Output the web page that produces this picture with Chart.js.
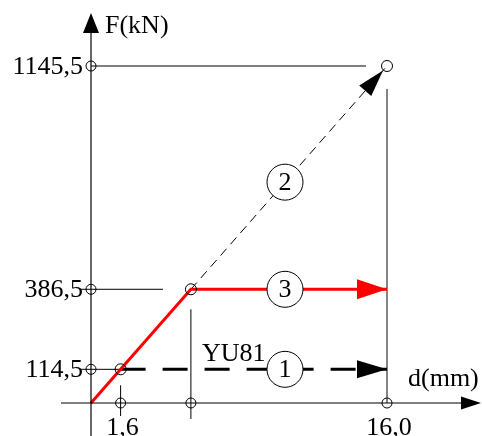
<!DOCTYPE html>
<html>
<head>
<meta charset="utf-8">
<title>F-d</title>
<script src="https://cdn.jsdelivr.net/npm/chart.js@4/dist/chart.umd.min.js"></script>
<style>
  html, body { margin: 0; padding: 0; background: #fff; }
  canvas { display: block; }
</style>
</head>
<body>
<canvas id="fdChart" width="482" height="436"></canvas>
<script>
// axis ticks (displacement in mm, force in kN)
const dispTicks = [1.6, 5.4, 16.0];
const dispLabels = ["1,6", "", "16,0"];
const forceTicks = [114.5, 386.5, 1145.5];
const forceLabels = ["114,5", "386,5", "1145,5"];

// curve 3: elastic then plastic (red)
const curve3Disp = [0, 1.6, 5.4, 16.0];
const curve3Force = [0, 114.5, 386.5, 386.5];
// curve 1: YU81 level
const curve1Disp = [1.6, 16.0];
const curve1Force = [114.5, 114.5];
// curve 2: elastic continuation
const curve2Disp = [5.4, 16.0];
const curve2Force = [386.5, 1145.5];

// layout of the drawing on the canvas
const W = 482, H = 436;
const ORIGIN_X = 91, ORIGIN_Y = 403, END_X = 387, TOP_Y = 66;
const SERIF = "26px 'Liberation Serif', 'Times New Roman', serif";

const dMax = dispTicks[dispTicks.length - 1];
const fMax = forceTicks[forceTicks.length - 1];
const pxPerMm = (END_X - ORIGIN_X) / dMax;
const pxPerKn = (ORIGIN_Y - TOP_Y) / fMax;

function toPoints(xs, ys) {
  return xs.map((x, i) => ({ x: x, y: ys[i] }));
}

function arrowHead(ctx, tipX, tipY, dx, dy, len, half, color) {
  const n = Math.hypot(dx, dy);
  const ux = dx / n, uy = dy / n;
  const bx = tipX - ux * len, by = tipY - uy * len;
  ctx.beginPath();
  ctx.moveTo(tipX, tipY);
  ctx.lineTo(bx - uy * half, by + ux * half);
  ctx.lineTo(bx + uy * half, by - ux * half);
  ctx.closePath();
  ctx.fillStyle = color;
  ctx.fill();
}

function ring(ctx, x, y, r) {
  ctx.beginPath();
  ctx.arc(x, y, r, 0, Math.PI * 2);
  ctx.lineWidth = 1;
  ctx.strokeStyle = "#000";
  ctx.stroke();
}

function seg(ctx, x1, y1, x2, y2, color, w) {
  ctx.beginPath();
  ctx.moveTo(x1, y1);
  ctx.lineTo(x2, y2);
  ctx.strokeStyle = color;
  ctx.lineWidth = w;
  ctx.stroke();
}

// guide lines under the curves
const guides = {
  id: "guides",
  beforeDatasetsDraw(chart) {
    const ctx = chart.ctx;
    const sx = chart.scales.x, sy = chart.scales.y;
    const x0 = sx.getPixelForValue(0), y0 = sy.getPixelForValue(0);
    const xa = sx.getPixelForValue(dispTicks[0]);
    const xb = sx.getPixelForValue(dispTicks[1]);
    const xc = sx.getPixelForValue(dispTicks[2]);
    const ya = sy.getPixelForValue(forceTicks[0]);
    const yb = sy.getPixelForValue(forceTicks[1]);
    const yc = sy.getPixelForValue(forceTicks[2]);
    ctx.save();
    seg(ctx, x0, yc, xc - 21, yc, "#555", 1.5);
    seg(ctx, xc, yc + 23, xc, y0, "#333", 1.2);
    seg(ctx, x0 - 11, yb, x0 + 72, yb, "#000", 1);
    seg(ctx, x0 - 11, ya, xa, ya, "#000", 1);
    seg(ctx, xa, ya + 16, xa, y0 + 13, "#000", 1);
    seg(ctx, xb, yb + 20, xb, y0 + 16, "#000", 1);
    ctx.restore();
  }
};

// axes, arrows, markers and labels on top
const decorations = {
  id: "decorations",
  afterDatasetsDraw(chart) {
    const ctx = chart.ctx;
    const sx = chart.scales.x, sy = chart.scales.y;
    const x0 = sx.getPixelForValue(0), y0 = sy.getPixelForValue(0);
    ctx.save();

    // axes
    seg(ctx, x0, H, x0, 30, "#000", 1.2);
    arrowHead(ctx, x0, 13, 0, -1, 20, 8, "#000");
    seg(ctx, 61, y0, W - 18, y0, "#000", 1.2);
    arrowHead(ctx, W - 1, y0, 1, 0, 20, 6.5, "#000");

    ctx.font = SERIF;
    ctx.fillStyle = "#000";
    ctx.textBaseline = "alphabetic";
    ctx.textAlign = "left";
    ctx.fillText("F(kN)", x0 + 14, 33);
    ctx.fillText("d(mm)", 408, 386);

    // tick rings and labels
    ctx.textBaseline = "middle";
    ctx.textAlign = "right";
    forceTicks.forEach((f, i) => {
      const y = sy.getPixelForValue(f);
      ring(ctx, x0, y, 5);
      ctx.fillText(forceLabels[i], x0 - 8, y + 1);
    });
    ctx.textBaseline = "alphabetic";
    ctx.textAlign = "center";
    dispTicks.forEach((d, i) => {
      const x = sx.getPixelForValue(d);
      ring(ctx, x, y0, 5);
      if (dispLabels[i]) ctx.fillText(dispLabels[i], x + 2, 435);
    });

    // arrowheads at curve ends
    const c3 = chart.getDatasetMeta(0).data;
    const c1 = chart.getDatasetMeta(1).data;
    const c2 = chart.getDatasetMeta(2).data;
    const e3 = c3[c3.length - 1];
    arrowHead(ctx, e3.x, e3.y, 1, 0, 30, 10, "#ff0000");
    const e1 = c1[c1.length - 1];
    arrowHead(ctx, e1.x, e1.y, 1, 0, 30, 9, "#000");
    const s2 = c2[0], e2 = c2[c2.length - 1];
    const dx = e2.x - s2.x, dy = e2.y - s2.y, n = Math.hypot(dx, dy);
    arrowHead(ctx, e2.x - dx / n * 6, e2.y - dy / n * 6, dx, dy, 27, 8, "#000");

    // point rings
    ring(ctx, c3[1].x, c3[1].y, 5.5);
    ring(ctx, c3[2].x, c3[2].y, 5.5);
    ring(ctx, e2.x, e2.y, 5.5);

    // curve numbers
    const tags = [
      { t: "1", y: curve1Force[0] },
      { t: "3", y: curve3Force[3] },
      { t: "2", y: null }
    ];
    const cx = 285;
    tags.forEach(tag => {
      let y;
      if (tag.y === null) {
        // on curve 2 where it crosses x = cx
        const k = (cx - s2.x) / (e2.x - s2.x);
        y = s2.y + k * (e2.y - s2.y);
      } else {
        y = sy.getPixelForValue(tag.y);
      }
      ctx.beginPath();
      ctx.arc(cx, y, 18, 0, Math.PI * 2);
      ctx.fillStyle = "#fff";
      ctx.fill();
      ctx.lineWidth = 1;
      ctx.strokeStyle = "#000";
      ctx.stroke();
      ctx.fillStyle = "#000";
      ctx.textAlign = "center";
      ctx.textBaseline = "middle";
      ctx.fillText(tag.t, cx, y + 1);
    });

    ctx.textAlign = "left";
    ctx.textBaseline = "alphabetic";
    ctx.fillText("YU81", 202, 361);

    ctx.restore();
  }
};

const ctx = document.getElementById("fdChart").getContext("2d");
const fdChart = new Chart(ctx, {
  type: "scatter",
  data: {
    datasets: [
      {
        label: "3",
        data: toPoints(curve3Disp, curve3Force),
        showLine: true,
        borderColor: "#ff0000",
        borderWidth: 3,
        pointRadius: 0,
        tension: 0,
      },
      {
        label: "1",
        data: toPoints(curve1Disp, curve1Force),
        showLine: true,
        borderColor: "#000",
        borderWidth: 3,
        borderDash: [25, 17],
        pointRadius: 0,
      },
      {
        label: "2",
        data: toPoints(curve2Disp, curve2Force),
        showLine: true,
        borderColor: "#000",
        borderWidth: 1,
        borderDash: [9, 6],
        pointRadius: 0,
      },
    ],
  },
  options: {
    responsive: false,
    animation: false,
    layout: { padding: 0 },
    plugins: {
      legend: { display: false },
      tooltip: { enabled: false },
    },
    scales: {
      x: {
        type: "linear",
        display: false,
        min: -ORIGIN_X / pxPerMm,
        max: (W - ORIGIN_X) / pxPerMm,
      },
      y: {
        type: "linear",
        display: false,
        min: -(H - ORIGIN_Y) / pxPerKn,
        max: ORIGIN_Y / pxPerKn,
      },
    },
  },
  plugins: [guides, decorations],
});
</script>
</body>
</html>
